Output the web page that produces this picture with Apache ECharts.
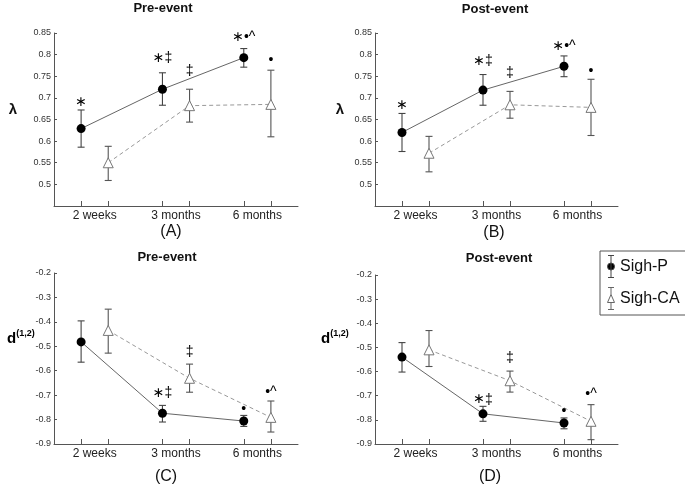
<!DOCTYPE html>
<html><head><meta charset="utf-8">
<script src="https://cdn.jsdelivr.net/npm/echarts@6/dist/echarts.min.js"></script>
<style>html,body{margin:0;padding:0;background:#fff}#c{width:685px;height:485px}</style>
</head><body><div id="c"></div>
<script>
const categories = ['2 weeks', '3 months', '6 months'];
const seriesNames = ['Sigh-P', 'Sigh-CA'];

// Axis ranges
const lambdaRange = { min: 0.45, max: 0.85, step: 0.05 };
const dRange = { min: -0.9, max: -0.2, step: 0.1 };

// Panel A: lambda, Pre-event
const aP_mean = [0.629, 0.720, 0.793];
const aP_low = [0.586, 0.683, 0.771];
const aP_high = [0.672, 0.758, 0.814];
const aCA_mean = [0.550, 0.682, 0.685];
const aCA_low = [0.509, 0.644, 0.610];
const aCA_high = [0.588, 0.720, 0.764];
const aP_markText = ['*', '*‡', '*•^'];
const aP_markY = [0.690, 0.792, 0.841];
const aCA_markText = ['', '‡', '•'];
const aCA_markY = [null, 0.761, 0.787];

// Panel B: lambda, Post-event
const bP_mean = [0.620, 0.718, 0.773];
const bP_low = [0.576, 0.683, 0.749];
const bP_high = [0.664, 0.754, 0.797];
const bCA_mean = [0.572, 0.684, 0.678];
const bCA_low = [0.529, 0.653, 0.613];
const bCA_high = [0.611, 0.715, 0.743];
const bP_markText = ['*', '*‡', '*•^'];
const bP_markY = [0.682, 0.784, 0.819];
const bCA_markText = ['', '‡', '•'];
const bCA_markY = [null, 0.757, 0.761];

// Panel C: d(1,2), Pre-event
const cP_mean = [-0.482, -0.774, -0.806];
const cP_low = [-0.565, -0.810, -0.828];
const cP_high = [-0.396, -0.742, -0.783];
const cCA_mean = [-0.435, -0.631, -0.791];
const cCA_low = [-0.528, -0.688, -0.851];
const cCA_high = [-0.348, -0.573, -0.724];
const cP_markText = ['', '*‡', '•'];
const cP_markY = [null, -0.692, -0.758];
const cCA_markText = ['', '‡', '•^'];
const cCA_markY = [null, -0.522, -0.688];

// Panel D: d(1,2), Post-event
const dP_mean = [-0.540, -0.775, -0.813];
const dP_low = [-0.602, -0.806, -0.837];
const dP_high = [-0.480, -0.744, -0.792];
const dCA_mean = [-0.510, -0.638, -0.806];
const dCA_low = [-0.579, -0.685, -0.882];
const dCA_high = [-0.430, -0.598, -0.737];
const dP_markText = ['', '*‡', '•'];
const dP_markY = [null, -0.717, -0.765];
const dCA_markText = ['', '‡', '•^'];
const dCA_markY = [null, -0.544, -0.692];

const FONT = 'Arial, "Liberation Sans", Helvetica, sans-serif';
const OFF = 1 / 6;

const panels = [
  { grid: { left: 54, top: 33, width: 244, height: 173 }, range: lambdaRange, hideMin: true,
    P: [aP_mean, aP_low, aP_high, aP_markText, aP_markY], CA: [aCA_mean, aCA_low, aCA_high, aCA_markText, aCA_markY] },
  { grid: { left: 375, top: 33, width: 243, height: 173 }, range: lambdaRange, hideMin: true,
    P: [bP_mean, bP_low, bP_high, bP_markText, bP_markY], CA: [bCA_mean, bCA_low, bCA_high, bCA_markText, bCA_markY] },
  { grid: { left: 54, top: 273, width: 244, height: 171 }, range: dRange, hideMin: false,
    P: [cP_mean, cP_low, cP_high, cP_markText, cP_markY], CA: [cCA_mean, cCA_low, cCA_high, cCA_markText, cCA_markY] },
  { grid: { left: 375, top: 275, width: 243, height: 169 }, range: dRange, hideMin: false,
    P: [dP_mean, dP_low, dP_high, dP_markText, dP_markY], CA: [dCA_mean, dCA_low, dCA_high, dCA_markText, dCA_markY] }
];

function errRender(color) {
  return function (params, api) {
    const x = api.value(0);
    const a = api.coord([x, api.value(1)]);
    const b = api.coord([x, api.value(2)]);
    const w = 3.5;
    const st = { stroke: color, lineWidth: 1.1 };
    return { type: 'group', children: [
      { type: 'line', shape: { x1: a[0], y1: a[1], x2: b[0], y2: b[1] }, style: st },
      { type: 'line', shape: { x1: a[0] - w, y1: a[1], x2: a[0] + w, y2: a[1] }, style: st },
      { type: 'line', shape: { x1: b[0] - w, y1: b[1], x2: b[0] + w, y2: b[1] }, style: st }
    ] };
  };
}
const markRich = {
  a: { fontSize: 14, fontFamily: '"DejaVu Sans", sans-serif', color: '#333', lineHeight: 16 },
  o: { fontSize: 14, fontFamily: FONT, color: '#333', lineHeight: 16 }
};
function toRich(t) {
  return t.split('').map(ch => ch === '*' ? '{a|\u2217}' : '{o|' + ch + '}').join('');
}
function markRender(texts) {
  return function (params, api) {
    const p = api.coord([api.value(0), api.value(1)]);
    return { type: 'text', x: p[0], y: p[1], style: {
      text: toRich(texts[params.dataIndex]), rich: markRich, align: 'center', verticalAlign: 'middle' } };
  };
}

const grids = [], xAxes = [], yAxes = [], series = [];
panels.forEach((pn, i) => {
  grids.push(pn.grid);
  xAxes.push({
    type: 'value', gridIndex: i, min: 0.5, max: 3.5,
    axisLine: { lineStyle: { color: '#555', width: 1 } },
    splitLine: { show: false },
    axisTick: { inside: true, length: 5, lineStyle: { color: '#555' },
      customValues: [1 - OFF, 1 + OFF, 2 - OFF, 2 + OFF, 3 - OFF, 3 + OFF] },
    axisLabel: { customValues: [1, 2, 3], formatter: v => categories[Math.round(v) - 1],
      fontSize: 12, fontFamily: FONT, color: '#222', margin: 4 }
  });
  yAxes.push({
    type: 'value', gridIndex: i, min: pn.range.min, max: pn.range.max, interval: pn.range.step,
    axisLine: { show: true, lineStyle: { color: '#555', width: 1 } },
    splitLine: { show: false },
    axisTick: { show: true, inside: true, length: 3, lineStyle: { color: '#555' } },
    axisLabel: { fontSize: 9, fontFamily: FONT, color: '#333', margin: 3, showMinLabel: !pn.hideMin }
  });
  [['P', -OFF], ['CA', OFF]].forEach(([k, off], s) => {
    const [mean, low, high, mt, my] = pn[k];
    series.push({
      type: 'custom', name: seriesNames[s], xAxisIndex: i, yAxisIndex: i, z: 2, silent: true,
      renderItem: errRender(s === 0 ? '#444' : '#555'),
      encode: { x: 0, y: [1, 2] },
      data: categories.map((c, j) => [j + 1 + off, low[j], high[j]])
    });
    series.push({
      type: 'line', name: seriesNames[s], xAxisIndex: i, yAxisIndex: i, z: s === 0 ? 4 : 3,
      symbol: s === 0 ? 'circle' : 'triangle', symbolSize: s === 0 ? 9 : 10,
      showAllSymbol: true,
      itemStyle: s === 0 ? { color: '#000', borderColor: '#000', borderWidth: 0 }
                         : { color: '#fff', borderColor: '#777', borderWidth: 1 },
      lineStyle: s === 0 ? { color: '#666', width: 1 } : { color: '#999', width: 1, type: [4, 3] },
      emphasis: { disabled: true },
      data: categories.map((c, j) => [j + 1 + off, mean[j]])
    });
    const idx = categories.map((c, j) => j).filter(j => mt[j] !== '');
    series.push({
      type: 'custom', xAxisIndex: i, yAxisIndex: i, z: 5, silent: true,
      renderItem: markRender(idx.map(j => mt[j])),
      encode: { x: 0, y: 1 },
      data: idx.map(j => [j + 1 + off, my[j]])
    });
  });
});

const pathP = 'path://M1,0L7,0M4,0L4,22M1,22L7,22M7.5,11A3.5,3.5,0,1,1,0.5,11A3.5,3.5,0,1,1,7.5,11Z';
const pathCA = 'path://M1,0L7,0M4,0L4,7M1,22L7,22M4,15L4,22M4,7L7.5,15L0.5,15Z';

const titleStyle = { fontSize: 13, fontWeight: 'bold', fontFamily: FONT, fill: '#111', align: 'center', verticalAlign: 'middle' };
const letterStyle = { fontSize: 16, fontFamily: FONT, fill: '#111', align: 'center', verticalAlign: 'middle' };
const dRich = { d: { fontSize: 15, fontWeight: 'bold', fontFamily: FONT, color: '#111' },
                s: { fontSize: 9, fontWeight: 'bold', fontFamily: FONT, color: '#111', verticalAlign: 'top', padding: [0, 0, 10, 0] } };

const option = {
  backgroundColor: '#fff',
  animation: false,
  grid: grids, xAxis: xAxes, yAxis: yAxes, series: series,
  legend: {
    left: 600, top: 251, orient: 'vertical',
    borderColor: '#555', borderWidth: 1, padding: [4, 7, 5, 7],
    itemWidth: 8, itemHeight: 22, itemGap: 9, selectedMode: false,
    textStyle: { fontSize: 16, fontFamily: FONT, color: '#111' },
    data: [
      { name: 'Sigh-P', icon: pathP, itemStyle: { color: '#000', borderColor: '#444', borderWidth: 1 } },
      { name: 'Sigh-CA', icon: pathCA, itemStyle: { color: '#fff', borderColor: '#666', borderWidth: 1 } }
    ]
  },
  graphic: [
    { type: 'text', x: 163, y: 8, style: Object.assign({ text: 'Pre-event' }, titleStyle) },
    { type: 'text', x: 495, y: 9, style: Object.assign({ text: 'Post-event' }, titleStyle) },
    { type: 'text', x: 167, y: 257, style: Object.assign({ text: 'Pre-event' }, titleStyle) },
    { type: 'text', x: 499, y: 258, style: Object.assign({ text: 'Post-event' }, titleStyle) },
    { type: 'text', x: 171, y: 232, style: Object.assign({ text: '(A)' }, letterStyle) },
    { type: 'text', x: 494, y: 233, style: Object.assign({ text: '(B)' }, letterStyle) },
    { type: 'text', x: 166, y: 477, style: Object.assign({ text: '(C)' }, letterStyle) },
    { type: 'text', x: 490, y: 477, style: Object.assign({ text: '(D)' }, letterStyle) },
    { type: 'text', x: 13, y: 110, style: { text: 'λ', fontSize: 15, fontWeight: 'bold', fontFamily: FONT, fill: '#111', align: 'center', verticalAlign: 'middle' } },
    { type: 'text', x: 340, y: 110, style: { text: 'λ', fontSize: 15, fontWeight: 'bold', fontFamily: FONT, fill: '#111', align: 'center', verticalAlign: 'middle' } },
    { type: 'text', x: 7, y: 339, style: { text: '{d|d}{s|(1,2)}', rich: dRich, align: 'left', verticalAlign: 'middle' } },
    { type: 'text', x: 321, y: 339, style: { text: '{d|d}{s|(1,2)}', rich: dRich, align: 'left', verticalAlign: 'middle' } }
  ]
};

const chart = echarts.init(document.getElementById('c'));
chart.setOption(option);
</script>
</body></html>
